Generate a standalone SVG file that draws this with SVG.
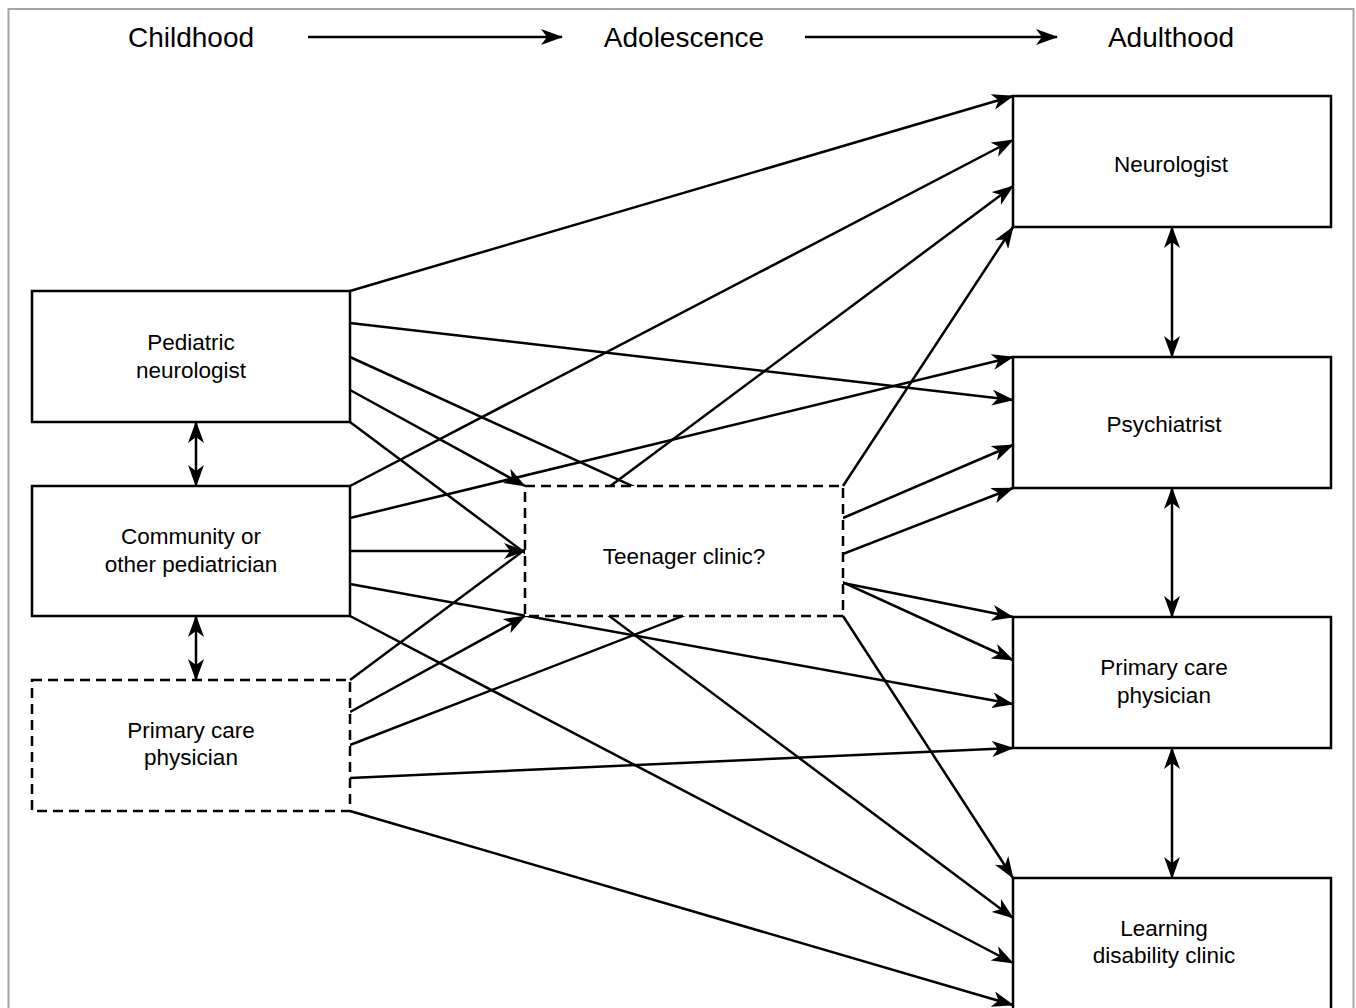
<svg xmlns="http://www.w3.org/2000/svg" width="1356" height="1008" viewBox="0 0 1356 1008">
<style>
.frame{fill:#fff;stroke:#a6a6a6;stroke-width:2}
.box{fill:#fff;stroke:#000;stroke-width:2.5}
.dash{fill:#fff;stroke:#000;stroke-width:2.5;stroke-dasharray:10 6}
.ln{fill:none;stroke:#000;stroke-width:2.5}
.hd{font-family:"Liberation Sans",Arial,sans-serif;font-size:28px;fill:#000;text-anchor:middle}
.lb{font-family:"Liberation Sans",Arial,sans-serif;font-size:22.5px;fill:#000;text-anchor:middle}
</style>
<defs>
<marker id="ah" markerUnits="userSpaceOnUse" markerWidth="22" markerHeight="16" refX="21" refY="8" orient="auto-start-reverse" viewBox="0 0 22 16">
<path d="M0,0 L22,8 L0,16 L6,8 z" fill="#000"/>
</marker>
</defs>
<rect class="frame" x="8.5" y="9" width="1345" height="1010"/>
<g id="header">
<text class="hd" x="191" y="47">Childhood</text>
<text class="hd" x="684" y="47">Adolescence</text>
<text class="hd" x="1171" y="47">Adulthood</text>
<line class="ln" x1="308" y1="37" x2="562" y2="37" marker-end="url(#ah)"/>
<line class="ln" x1="805" y1="37" x2="1057" y2="37" marker-end="url(#ah)"/>
</g>
<g id="connectors">
<line class="ln" x1="350" y1="291" x2="1013" y2="96" marker-end="url(#ah)"/>
<line class="ln" x1="350" y1="323" x2="1013" y2="400" marker-end="url(#ah)"/>
<line class="ln" x1="350" y1="357" x2="1013" y2="660" marker-end="url(#ah)"/>
<line class="ln" x1="350" y1="390" x2="525" y2="486" marker-end="url(#ah)"/>
<line class="ln" x1="350" y1="422" x2="1013" y2="918" marker-end="url(#ah)"/>
<line class="ln" x1="350" y1="486" x2="1013" y2="140" marker-end="url(#ah)"/>
<line class="ln" x1="350" y1="518" x2="1013" y2="357" marker-end="url(#ah)"/>
<line class="ln" x1="350" y1="551" x2="525" y2="551" marker-end="url(#ah)"/>
<line class="ln" x1="350" y1="584" x2="1013" y2="704" marker-end="url(#ah)"/>
<line class="ln" x1="350" y1="616" x2="1013" y2="963" marker-end="url(#ah)"/>
<line class="ln" x1="350" y1="680" x2="1013" y2="186" marker-end="url(#ah)"/>
<line class="ln" x1="350" y1="712" x2="525" y2="616" marker-end="url(#ah)"/>
<line class="ln" x1="350" y1="745" x2="1013" y2="488" marker-end="url(#ah)"/>
<line class="ln" x1="350" y1="778" x2="1013" y2="748" marker-end="url(#ah)"/>
<line class="ln" x1="350" y1="811" x2="1013" y2="1005" marker-end="url(#ah)"/>
<line class="ln" x1="843" y1="486" x2="1013" y2="227" marker-end="url(#ah)"/>
<line class="ln" x1="843" y1="518" x2="1013" y2="445" marker-end="url(#ah)"/>
<line class="ln" x1="843" y1="583" x2="1013" y2="617" marker-end="url(#ah)"/>
<line class="ln" x1="843" y1="616" x2="1013" y2="878" marker-end="url(#ah)"/>
<line class="ln" x1="196" y1="422" x2="196" y2="486" marker-start="url(#ah)" marker-end="url(#ah)"/>
<line class="ln" x1="196" y1="616" x2="196" y2="680" marker-start="url(#ah)" marker-end="url(#ah)"/>
<line class="ln" x1="1172" y1="227" x2="1172" y2="357" marker-start="url(#ah)" marker-end="url(#ah)"/>
<line class="ln" x1="1172" y1="488" x2="1172" y2="617" marker-start="url(#ah)" marker-end="url(#ah)"/>
<line class="ln" x1="1172" y1="748" x2="1172" y2="878" marker-start="url(#ah)" marker-end="url(#ah)"/>
</g>
<g id="ped-neurologist">
<rect class="box" x="32" y="291" width="318" height="131"/>
<text class="lb" x="191" y="350">Pediatric</text>
<text class="lb" x="191" y="378">neurologist</text>
</g>
<g id="community-pediatrician">
<rect class="box" x="32" y="486" width="318" height="130"/>
<text class="lb" x="191" y="544">Community or</text>
<text class="lb" x="191" y="572">other pediatrician</text>
</g>
<g id="pcp-child">
<rect class="dash" x="32" y="680" width="318" height="131"/>
<text class="lb" x="191" y="738">Primary care</text>
<text class="lb" x="191" y="765">physician</text>
</g>
<g id="teenager-clinic">
<rect class="dash" x="525" y="486" width="318" height="130"/>
<text class="lb" x="684" y="564">Teenager clinic?</text>
</g>
<g id="neurologist">
<rect class="box" x="1013" y="96" width="318" height="131"/>
<text class="lb" x="1171" y="172">Neurologist</text>
</g>
<g id="psychiatrist">
<rect class="box" x="1013" y="357" width="318" height="131"/>
<text class="lb" x="1164" y="432">Psychiatrist</text>
</g>
<g id="pcp-adult">
<rect class="box" x="1013" y="617" width="318" height="131"/>
<text class="lb" x="1164" y="675">Primary care</text>
<text class="lb" x="1164" y="703">physician</text>
</g>
<g id="learning-disability">
<rect class="box" x="1013" y="878" width="318" height="140"/>
<text class="lb" x="1164" y="936">Learning</text>
<text class="lb" x="1164" y="963">disability clinic</text>
</g>
</svg>
